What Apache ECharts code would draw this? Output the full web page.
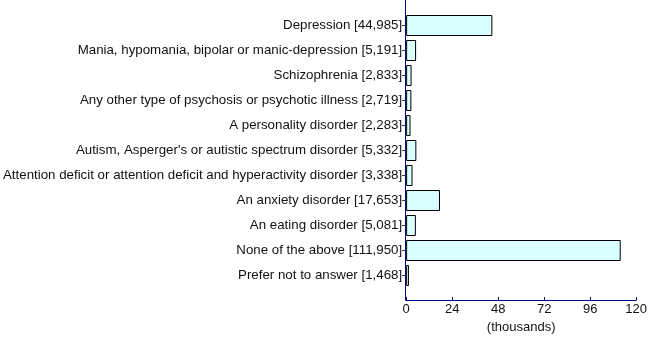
<!DOCTYPE html>
<html>
<head>
<meta charset="utf-8">
<script src="https://cdn.jsdelivr.net/npm/echarts@6/dist/echarts.min.js"></script>
<style>
  html, body { margin: 0; padding: 0; background: #fff; }
  #chart { width: 650px; height: 342px; }
</style>
</head>
<body>
<div id="chart"></div>
<script>
// Responses by condition (counts), plotted in thousands
const categories = [
  'Depression',
  'Mania, hypomania, bipolar or manic-depression',
  'Schizophrenia',
  'Any other type of psychosis or psychotic illness',
  'A personality disorder',
  "Autism, Asperger's or autistic spectrum disorder",
  'Attention deficit or attention deficit and hyperactivity disorder',
  'An anxiety disorder',
  'An eating disorder',
  'None of the above',
  'Prefer not to answer'
];
const counts = [44985, 5191, 2833, 2719, 2283, 5332, 3338, 17653, 5081, 111950, 1468];
const xTicks = [0, 24, 48, 72, 96, 120];

const labels = categories.map((c, i) => c + ' [' + counts[i].toLocaleString('en-US') + ']');
const values = counts.map(v => v / 1000);

const axisColor = '#000080';
const font = 'Liberation Sans, Arial, sans-serif';

const chart = echarts.init(document.getElementById('chart'), null, { renderer: 'canvas' });
chart.setOption({
  animation: false,
  grid: [
    { left: 405, right: 11, top: 13, height: 275, containLabel: false },
    { left: 405, right: 11, top: 0, height: 300, containLabel: false }
  ],
  xAxis: [
    {
      gridIndex: 0,
      type: 'value',
      min: xTicks[0],
      max: xTicks[xTicks.length - 1],
      interval: 24,
      offset: 12,
      name: '(thousands)',
      nameLocation: 'middle',
      nameGap: 20,
      nameTextStyle: { color: '#111', fontFamily: font, fontSize: 13 },
      axisLine: { show: true, lineStyle: { color: axisColor, width: 1 } },
      axisTick: { show: true, inside: true, length: 3, lineStyle: { color: axisColor } },
      axisLabel: { color: '#111', fontFamily: font, fontSize: 13, margin: 3 },
      splitLine: { show: false }
    },
    {
      gridIndex: 1,
      type: 'value',
      show: false,
      min: 0,
      max: 120
    }
  ],
  yAxis: [
    {
      gridIndex: 0,
      type: 'category',
      inverse: true,
      data: labels,
      axisLine: { show: false },
      axisTick: { show: true, alignWithLabel: true, length: 4, lineStyle: { color: '#333' } },
      axisLabel: { color: '#111', fontFamily: font, fontSize: 13.3, margin: 4 }
    },
    {
      gridIndex: 1,
      type: 'value',
      min: 0,
      max: 1,
      axisLine: { show: true, lineStyle: { color: axisColor, width: 1 } },
      axisTick: { show: false },
      axisLabel: { show: false },
      splitLine: { show: false }
    }
  ],
  series: [
    {
      type: 'bar',
      xAxisIndex: 0,
      yAxisIndex: 0,
      data: values,
      barWidth: 21,
      itemStyle: { color: '#d9ffff', borderColor: '#000', borderWidth: 1 }
    }
  ]
});
</script>
</body>
</html>
